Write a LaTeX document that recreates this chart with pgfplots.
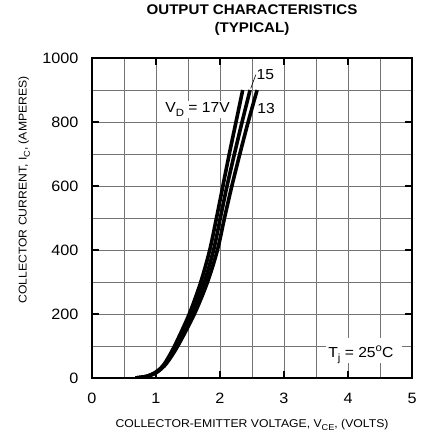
\documentclass[border=0pt]{standalone}
\usepackage{pgfplots}
\pgfplotsset{compat=1.18}
\usepackage{fontspec}
\setmainfont{Liberation Sans}[FakeStretch=1.08]
% lowered / raised index in a given size (pt)
\newcommand\lo[2]{\raisebox{-0.28em}{\fontsize{#1}{#1}\selectfont #2}}
\newcommand\hi[2]{\raisebox{0.42em}{\fontsize{#1}{#1}\selectfont #2}}

\begin{document}
\begin{tikzpicture}[x=1pt,y=1pt]
\useasboundingbox (0,0) rectangle (425,433);
\begin{axis}[
    at={(92pt,55pt)}, anchor=south west,
    scale only axis, width=320pt, height=320pt,
    clip mode=individual,
    xmin=0, xmax=5, ymin=0, ymax=1000,
    xtick={0,1,2,3,4,5},
    ytick={0,200,400,600,800,1000},
    minor x tick num=1, minor y tick num=1,
    grid=both,
    major grid style={black!55, line width=0.9pt},
    minor grid style={black!55, line width=0.9pt},
    tick align=inside, tick pos=both,
    major tick length=7pt, minor tick length=0pt,
    major tick style={black, line width=1.8pt},
    axis line style={line width=2pt},
    every tick label/.append style={font=\fontsize{15}{18}\selectfont},
    /pgf/number format/assume math mode=true,
    /pgf/number format/1000 sep={},
    xticklabel style={anchor=base, yshift=-25.3pt},
    yticklabel style={xshift=-10pt},
]

% V_GE = 17 V
\addplot[black, line width=3.6pt, smooth] coordinates {
    (0.68,0) (0.85,5) (0.97,15) (1.07,30) (1.15,50) (1.29,100) (1.52,200)
    (1.70,300) (1.84,400) (1.945,500) (2.045,600) (2.145,700) (2.25,800) (2.355,900)
};
% 15 V
\addplot[black, line width=3.6pt, smooth] coordinates {
    (0.68,0) (0.855,5) (0.98,15) (1.08,30) (1.165,50) (1.315,100) (1.56,200)
    (1.755,300) (1.90,400) (2.005,500) (2.11,600) (2.225,700) (2.345,800) (2.47,900)
};
% 13 V
\addplot[black, line width=3.6pt, smooth] coordinates {
    (0.68,0) (0.86,5) (0.99,15) (1.09,30) (1.18,50) (1.34,100) (1.60,200)
    (1.805,300) (1.96,400) (2.07,500) (2.185,600) (2.31,700) (2.44,800) (2.58,900)
};

\node[anchor=base east, fill=white, inner sep=1.5pt, font=\fontsize{14.5}{17}\selectfont]
    at (axis cs:2.18,829) {V\lo{10.5}{D} = 17V};
\draw[line width=0.6pt] (axis cs:2.48,905) -- (axis cs:2.56,948);
\node[anchor=base west, inner sep=0pt, font=\fontsize{14.5}{17}\selectfont]
    at (axis cs:2.57,933) {15};
\node[anchor=base west, inner sep=0pt, font=\fontsize{14.5}{17}\selectfont]
    at (axis cs:2.58,825) {13};

\fill[white] (axis cs:3.66,47) rectangle (axis cs:4.84,125);
\node[anchor=base west, inner sep=0pt, font=\fontsize{14.5}{17}\selectfont]
    at (axis cs:3.69,65) {T\lo{10.5}{j} = 25\hi{10.5}{o}C};

% titles and axis labels
\node[anchor=base, font=\bfseries\fontsize{14}{17}\selectfont]
    at ([yshift=43pt]rel axis cs:0.5,1) {OUTPUT CHARACTERISTICS};
\node[anchor=base, font=\bfseries\fontsize{14}{17}\selectfont]
    at ([yshift=25pt]rel axis cs:0.5,1) {(TYPICAL)};
\node[anchor=base, font=\fontsize{11.3}{14}\selectfont]
    at ([yshift=-49.7pt]rel axis cs:0.5,0) {COLLECTOR-EMITTER VOLTAGE, V\lo{8.5}{CE}, (VOLTS)};
\node[anchor=base, rotate=90, font=\fontsize{11.3}{14}\selectfont]
    at ([xshift=-65.3pt, yshift=28pt]rel axis cs:0,0.5) {COLLECTOR CURRENT, I\lo{8.5}{C}, (AMPERES)};
\end{axis}
\end{tikzpicture}
\end{document}
